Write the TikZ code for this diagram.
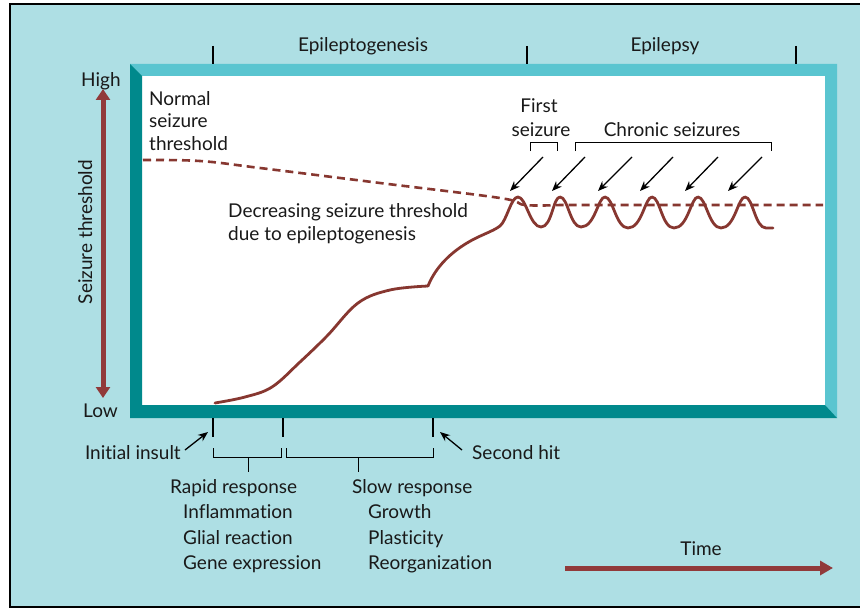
\documentclass[tikz,border=0pt]{standalone}
\usepackage{fontspec}
\setmainfont{Lato}[Ligatures={NoCommon}]
\usetikzlibrary{arrows.meta}
\definecolor{bgblue}{RGB}{174,223,228}
\definecolor{framelight}{RGB}{90,197,208}
\definecolor{framedark}{RGB}{0,137,140}
\definecolor{axisred}{RGB}{145,58,58}
\definecolor{curvered}{RGB}{135,55,48}
\begin{document}
\begin{tikzpicture}[x=1pt,y=-1pt,
  font=\fontsize{19}{23}\selectfont,
  lbl/.style={inner sep=0pt, anchor=base west, text=black!90},
  lblc/.style={inner sep=0pt, anchor=base, text=black!90},
  tickmark/.style={line width=2.4pt, black},
  brk/.style={line width=1pt, black},
  pointer/.style={line width=1.3pt, black, -{Stealth[length=10pt,width=8pt]}},
  bigarrow/.style={line width=5pt, axisred},
  curve/.style={line width=2.8pt, curvered, line cap=round, line join=round},
  thresh/.style={line width=2.6pt, curvered, dash pattern=on 8pt off 5pt}]
\useasboundingbox (0,0) rectangle (860,610);
\clip (0,0) rectangle (860,610);
\fill[white] (0,0) rectangle (860,610);
\draw[line width=2pt, fill=bgblue] (10,4) rectangle (880,607);
% frame
\fill[white] (142,76) rectangle (825,405);
\fill[framelight] (130,64) -- (837,64) -- (837,418) -- (825,405) -- (825,76) -- (142,76) -- cycle;
\fill[framedark] (130,64) -- (142,76) -- (142,405) -- (825,405) -- (837,418) -- (130,418) -- cycle;
% top ticks and phase labels
\draw[tickmark] (213,46) -- (213,64);
\draw[tickmark] (527,46) -- (527,64);
\draw[tickmark] (796,46) -- (796,64);
\node[lblc] (epigen) at (363,52) {Epileptogenesis};
\node[lblc] (epil) at (665,52) {Epilepsy};
% y axis
\node[lbl] (high) at (81,86) {High};
\node[lbl] (low) at (83,417) {Low};
\coordinate (ytop) at (103,89);
\coordinate (ybot) at (103,398);
\draw[bigarrow, {Triangle[length=11pt,width=14pt]}-{Triangle[length=11pt,width=14pt]}] (ytop) -- (ybot);
\node[inner sep=0pt, anchor=base, rotate=90, text=black!90] (ylab) at (92,232) {Seizure threshold};
% threshold texts
\node[lbl] (n1) at (149,106) {Normal};
\node[lbl] (n2) at (149,128) {seizure};
\node[lbl] (n3) at (149,150) {threshold};
\node[lbl] (d1) at (228,217) {Decreasing seizure threshold};
\node[lbl] (d2) at (228,240) {due to epileptogenesis};
% dashed threshold
\draw[thresh] plot[smooth, tension=0.6] coordinates {(143,160) (200,161) (260,168) (380,183) (500,198) (525,205) (560,205)} -- (823,205);
% main curve
\draw[curve] plot[smooth, tension=0.6] coordinates {(215,403) (245,397) (272,387) (300,362) (327,336) (358,303) (390,290) (428,286)};
\draw[curve] (428,286) .. controls (436,266) and (452,252) .. (467,243) .. controls (480,235) and (492,232) .. (500,226)
  .. controls (507,220) and (511,197) .. (518,197)
  .. controls (526,197) and (530,227) .. (541,227)
  .. controls (552,227) and (553,197) .. (560,197)
  .. controls (568,197) and (570,227) .. (581,227)
  .. controls (595,227) and (598,197) .. (605,197)
  .. controls (613,197) and (616,228) .. (628,228)
  .. controls (642,228) and (645,197) .. (652,197)
  .. controls (660,197) and (662,228) .. (674,228)
  .. controls (688,228) and (691,197) .. (698,197)
  .. controls (706,197) and (709,228) .. (721,228)
  .. controls (735,228) and (738,197) .. (745,197)
  .. controls (753,197) and (755,228) .. (766,228) -- (773,228);
% seizure labels
\node[lblc] (fs1) at (539,113) {First};
\node[lblc] (fs2) at (541,136) {seizure};
\node[lblc] (chron) at (672,136) {Chronic seizures};
\draw[brk] (530,151) -- (530,142) -- (557,142) -- (557,151);
\draw[brk] (575,151) -- (575,142) -- (771,142) -- (771,151);
\foreach \i/\tx/\hx in {1/543/510, 2/585/552, 3/632/598, 4/673/640, 5/718/685, 6/762/728} {
  \coordinate (pa\i) at (\tx,157);
  \coordinate (pb\i) at (\hx,191);
  \draw[pointer] (pa\i) -- (pb\i);
}
% bottom ticks
\draw[tickmark] (213,418) -- (213,437);
\draw[tickmark] (283,418) -- (283,437);
\draw[tickmark] (433,418) -- (433,437);
\node[inner sep=0pt, anchor=base east, text=black!90] (insult) at (181,459) {Initial insult};
\node[lbl] (second) at (472,459) {Second hit};
\coordinate (ia) at (185,450);
\coordinate (ib) at (208,432);
\coordinate (sa) at (462,450);
\coordinate (sb) at (440,432);
\draw[pointer] (ia) -- (ib);
\draw[pointer] (sa) -- (sb);
% brackets below
\draw[brk] (213,448) -- (213,457) -- (281,457) -- (281,448);
\draw[brk] (248,457) -- (248,472);
\draw[brk] (286,448) -- (286,457) -- (433,457) -- (433,448);
\draw[brk] (358,457) -- (358,472);
% response lists
\node[lbl] (rapid) at (170,493) {Rapid response};
\node[lbl] (r1) at (183,518) {Inflammation};
\node[lbl] (r2) at (183,544) {Glial reaction};
\node[lbl] (r3) at (183,569) {Gene expression};
\node[lbl] (slow) at (352,493) {Slow response};
\node[lbl] (s1) at (368,518) {Growth};
\node[lbl] (s2) at (368,544) {Plasticity};
\node[lbl] (s3) at (368,569) {Reorganization};
% time arrow
\node[lblc] (time) at (701,555) {Time};
\coordinate (ta) at (565,568);
\coordinate (tb) at (833,568);
\draw[bigarrow, -{Triangle[length=13pt,width=14pt]}] (ta) -- (tb);
\end{tikzpicture}
\end{document}
